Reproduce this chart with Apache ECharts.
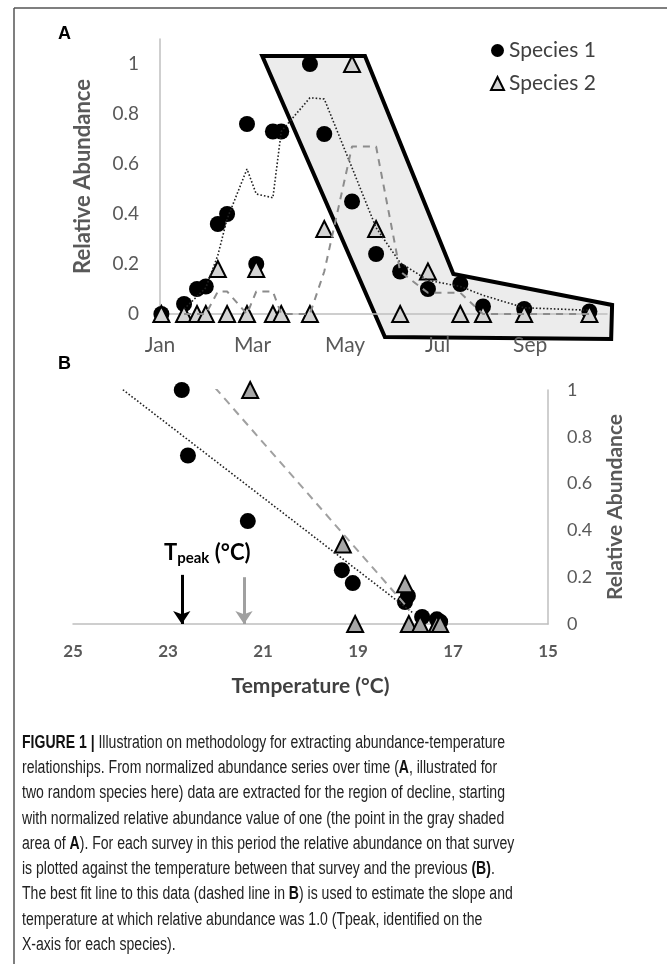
<!DOCTYPE html>
<html>
<head>
<meta charset="utf-8">
<script src="https://cdn.jsdelivr.net/npm/echarts@6/dist/echarts.min.js"></script>
<style>
	html, body { margin: 0; padding: 0; background: #fff; }
	#chart { width: 667px; height: 964px; }
</style>
</head>
<body>
<div id="chart"></div>
<script>
// panel A: survey dates (months after Jan) and relative abundance
var monthLabels = ['Jan', 'Mar', 'May', 'Jul', 'Sep'];
var surveyMonth = [0.03, 0.52, 0.80, 0.99, 1.25, 1.45, 1.88, 2.08, 2.44, 2.62, 3.24, 3.55, 4.15, 4.67, 5.19, 5.79, 6.49, 6.98, 7.87, 9.28];
var species1 = [0, 0.04, 0.10, 0.11, 0.36, 0.40, 0.76, 0.20, 0.73, 0.73, 1.0, 0.72, 0.45, 0.24, 0.17, 0.10, 0.12, 0.03, 0.02, 0.01];
var species2 = [0, 0, 0, 0, 0.18, 0, 0, 0.18, 0, 0, 0, 0.34, 1.0, 0.34, 0, 0.17, 0, 0, 0, 0];
// moving average lines (start at 2nd survey)
var species1Avg = [0.02, 0.07, 0.105, 0.235, 0.38, 0.58, 0.48, 0.465, 0.73, 0.865, 0.86, 0.585, 0.345, 0.205, 0.135, 0.11, 0.075, 0.025, 0.015];
var species2Avg = [0, 0, 0, 0.09, 0.09, 0, 0.09, 0.09, 0, 0, 0.17, 0.67, 0.67, 0.17, 0.085, 0.085, 0, 0, 0];
// gray shaded region of decline
var shadeMonth = [2.21, 4.43, 6.34, 9.77, 9.75, 4.86];
var shadeValue = [1.032, 1.032, 0.16, 0.036, -0.10, -0.092];

// panel B: temperature vs relative abundance
var tempLabels = [15, 17, 19, 21, 23, 25];
var temp1 = [22.71, 22.58, 21.32, 19.34, 19.11, 18.01, 17.95, 17.65, 17.34, 17.27];
var decline1 = [1.0, 0.72, 0.44, 0.23, 0.175, 0.094, 0.12, 0.03, 0.02, 0.01];
var temp2 = [21.27, 19.32, 19.06, 18.01, 17.93, 17.69, 17.34, 17.27];
var decline2 = [1.0, 0.34, 0, 0.17, 0, 0, 0, 0];
var fit1Temp = [24.07, 17.86];
var fit1Value = [1.02, 0.05];
var fit2Temp = [22.01, 17.91];
var fit2Value = [1.01, 0.06];
var tPeak = [22.71, 21.4];

var captionLines = [
	'{b|FIGURE 1 |} Illustration on methodology for extracting abundance-temperature',
	'relationships. From normalized abundance series over time ({b|A}, illustrated for',
	'two random species here) data are extracted for the region of decline, starting',
	'with normalized relative abundance value of one (the point in the gray shaded',
	'area of {b|A}). For each survey in this period the relative abundance on that survey',
	'is plotted against the temperature between that survey and the previous {b|(B)}.',
	'The best fit line to this data (dashed line in {b|B}) is used to estimate the slope and',
	'temperature at which relative abundance was 1.0 (Tpeak, identified on the',
	'X-axis for each species).'
];

function zip(a, b) {
	let out = [];
	for (let i = 0; i < a.length; i++) {
		out.push([a[i], b[i]]);
	}
	return out;
}

var axisFont = 'Lato, "Open Sans", sans-serif';
var grayText = '#595959';

// squeeze the caption font to the narrow width of the original
var capFont = '"Liberation Sans", Arial, sans-serif';
var ctx = document.createElement('canvas').getContext('2d');
ctx.font = '18px ' + capFont;
var capW = ctx.measureText(captionLines[6].replace(/\{b\||\}/g, '')).width;
var capScale = 490 / capW;

var graphics = [
	{ type: 'line', shape: { x1: 14, y1: 8, x2: 667, y2: 8 }, style: { stroke: '#555', lineWidth: 1.5 } },
	{ type: 'line', shape: { x1: 14, y1: 8, x2: 14, y2: 964 }, style: { stroke: '#555', lineWidth: 1.5 } },
	{ type: 'text', x: 58, y: 34, style: { text: 'A', font: 'bold 18px "Liberation Sans", Arial', fill: '#000', verticalAlign: 'middle' } },
	{ type: 'text', x: 58, y: 364, style: { text: 'B', font: 'bold 18px "Liberation Sans", Arial', fill: '#000', verticalAlign: 'middle' } },
	{
		type: 'text', x: 164, y: 553,
		style: {
			text: '{t|T}{s|peak}{t| (°C)}',
			verticalAlign: 'middle',
			rich: {
				t: { fontSize: 22, fontWeight: 'bold', fontFamily: axisFont, fill: '#000', lineHeight: 26, verticalAlign: 'middle' },
				s: { fontSize: 15, fontWeight: 'bold', fontFamily: axisFont, fill: '#000', lineHeight: 26, verticalAlign: 'bottom', padding: [9, 0, 0, 0] }
			}
		}
	}
];
for (let i = 0; i < captionLines.length; i++) {
	graphics.push({
		type: 'text', x: 22, y: 743 + i * 25.25, scaleX: capScale,
		style: {
			text: captionLines[i],
			fontSize: 18, fontFamily: capFont, fill: '#222', verticalAlign: 'middle',
			rich: {
				b: { fontSize: 18, fontFamily: capFont, fontWeight: 'bold', fill: '#111' }
			}
		}
	});
}

let chartDom = document.getElementById('chart');
let myChart = echarts.init(chartDom);
let option;

option = {
	animation: false,
	backgroundColor: '#fff',
	legend: {
		data: ['Species 1', 'Species 2'],
		orient: 'vertical',
		left: 485,
		top: 35,
		itemWidth: 13,
		itemHeight: 13,
		itemGap: 12,
		textStyle: { fontSize: 21, fontFamily: axisFont, color: '#404040' }
	},
	grid: [
		{ left: 160, top: 39, width: 447, height: 275 },
		{ left: 73, top: 390, width: 475, height: 234 }
	],
	xAxis: [{
		gridIndex: 0,
		type: 'value',
		min: 0,
		max: 9.66,
		interval: 2,
		axisLine: { lineStyle: { color: '#bfbfbf', width: 1.5 } },
		axisTick: { show: false },
		splitLine: { show: false },
		axisLabel: {
			margin: 21,
			fontSize: 21,
			fontFamily: axisFont,
			color: grayText,
			formatter: function(v) {
				return Number.isInteger(v / 2) && monthLabels[v / 2] ? monthLabels[v / 2] : '';
			}
		}
	}, {
		gridIndex: 1,
		type: 'value',
		min: 15,
		max: 25,
		interval: 1,
		inverse: true,
		name: 'Temperature (°C)',
		nameLocation: 'middle',
		nameGap: 52,
		nameTextStyle: { fontSize: 21, fontWeight: 'bold', fontFamily: axisFont, color: '#404040' },
		axisLine: { lineStyle: { color: '#bfbfbf', width: 1.5 } },
		axisTick: { show: false },
		splitLine: { show: false },
		axisLabel: {
			margin: 19,
			fontSize: 17,
			fontWeight: 'bold',
			fontFamily: axisFont,
			color: grayText,
			formatter: function(v) {
				return tempLabels.indexOf(v) >= 0 ? String(v) : '';
			}
		}
	}],
	yAxis: [{
		gridIndex: 0,
		type: 'value',
		min: 0,
		max: 1.1,
		interval: 0.2,
		name: 'Relative Abundance',
		nameLocation: 'middle',
		nameRotate: 90,
		nameGap: 66,
		nameTextStyle: { fontSize: 22, fontWeight: 'bold', fontFamily: axisFont, color: grayText },
		axisLine: { show: true, lineStyle: { color: '#bfbfbf', width: 1.5 } },
		axisTick: { show: false },
		splitLine: { show: false },
		axisLabel: {
			margin: 21,
			fontSize: 19,
			fontFamily: axisFont,
			color: grayText,
			formatter: function(v) {
				return v > 1.001 ? '' : String(+v.toFixed(1));
			}
		}
	}, {
		gridIndex: 1,
		type: 'value',
		position: 'right',
		min: 0,
		max: 1,
		interval: 0.2,
		name: 'Relative Abundance',
		nameLocation: 'middle',
		nameRotate: 90,
		nameGap: 57,
		nameTextStyle: { fontSize: 21, fontWeight: 'bold', fontFamily: axisFont, color: grayText },
		axisLine: { show: true, lineStyle: { color: '#bfbfbf', width: 1.5 } },
		axisTick: { show: false },
		splitLine: { show: false },
		axisLabel: {
			margin: 19,
			fontSize: 18,
			fontFamily: axisFont,
			color: grayText,
			formatter: function(v) {
				return String(+v.toFixed(1));
			}
		}
	}],
	series: [{
		name: 'shade',
		type: 'custom',
		xAxisIndex: 0,
		yAxisIndex: 0,
		z: -1,
		silent: true,
		data: zip(shadeMonth, shadeValue),
		renderItem: function(params, api) {
			if (params.dataIndex !== 0) return;
			let pts = [];
			for (let i = 0; i < shadeMonth.length; i++) {
				pts.push(api.coord([shadeMonth[i], shadeValue[i]]));
			}
			return {
				type: 'polygon',
				shape: { points: pts },
				style: { fill: '#ececec', stroke: '#000', lineWidth: 4, lineJoin: 'miter' }
			};
		}
	}, {
		name: 'Species 1',
		type: 'scatter',
		xAxisIndex: 0,
		yAxisIndex: 0,
		clip: false,
		z: 2,
		symbol: 'circle',
		symbolSize: 16,
		itemStyle: { color: '#000', opacity: 1 },
		data: zip(surveyMonth, species1)
	}, {
		name: 'Species 2',
		type: 'scatter',
		xAxisIndex: 0,
		yAxisIndex: 0,
		clip: false,
		z: 3,
		symbol: 'triangle',
		symbolSize: 16,
		itemStyle: { color: '#d4d4d4', borderColor: '#000', borderWidth: 2, opacity: 1 },
		data: zip(surveyMonth, species2)
	}, {
		name: 'avg1',
		type: 'line',
		xAxisIndex: 0,
		yAxisIndex: 0,
		z: 4,
		showSymbol: false,
		silent: true,
		lineStyle: { color: '#222', width: 1.6, type: [1.6, 2] },
		data: zip(surveyMonth.slice(1), species1Avg)
	}, {
		name: 'avg2',
		type: 'line',
		xAxisIndex: 0,
		yAxisIndex: 0,
		z: 4,
		showSymbol: false,
		silent: true,
		lineStyle: { color: '#8c8c8c', width: 2, type: [7, 6] },
		data: zip(surveyMonth.slice(1), species2Avg)
	}, {
		name: 'temp1',
		type: 'scatter',
		xAxisIndex: 1,
		yAxisIndex: 1,
		clip: false,
		z: 2,
		symbol: 'circle',
		symbolSize: 16,
		itemStyle: { color: '#000', opacity: 1 },
		data: zip(temp1, decline1)
	}, {
		name: 'temp2',
		type: 'scatter',
		xAxisIndex: 1,
		yAxisIndex: 1,
		clip: false,
		z: 3,
		symbol: 'triangle',
		symbolSize: 16,
		itemStyle: { color: '#a6a6a6', borderColor: '#000', borderWidth: 2, opacity: 1 },
		data: zip(temp2, decline2)
	}, {
		name: 'fit1',
		type: 'line',
		xAxisIndex: 1,
		yAxisIndex: 1,
		z: 4,
		showSymbol: false,
		silent: true,
		lineStyle: { color: '#222', width: 1.6, type: [1.6, 2] },
		data: zip(fit1Temp, fit1Value),
		markLine: {
			silent: true,
			symbol: ['none', 'arrow'],
			symbolSize: 13,
			label: { show: false },
			lineStyle: { color: '#000', width: 3, type: 'solid' },
			data: [[{ coord: [tPeak[0], 0.21] }, { coord: [tPeak[0], 0] }]]
		}
	}, {
		name: 'fit2',
		type: 'line',
		xAxisIndex: 1,
		yAxisIndex: 1,
		z: 4,
		showSymbol: false,
		silent: true,
		lineStyle: { color: '#a0a0a0', width: 2, type: [8, 6] },
		data: zip(fit2Temp, fit2Value),
		markLine: {
			silent: true,
			symbol: ['none', 'arrow'],
			symbolSize: 13,
			label: { show: false },
			lineStyle: { color: '#a0a0a0', width: 3, type: 'solid' },
			data: [[{ coord: [tPeak[1], 0.2] }, { coord: [tPeak[1], 0] }]]
		}
	}],
	graphic: graphics
};
option && myChart.setOption(option);
</script>
</body>
</html>
